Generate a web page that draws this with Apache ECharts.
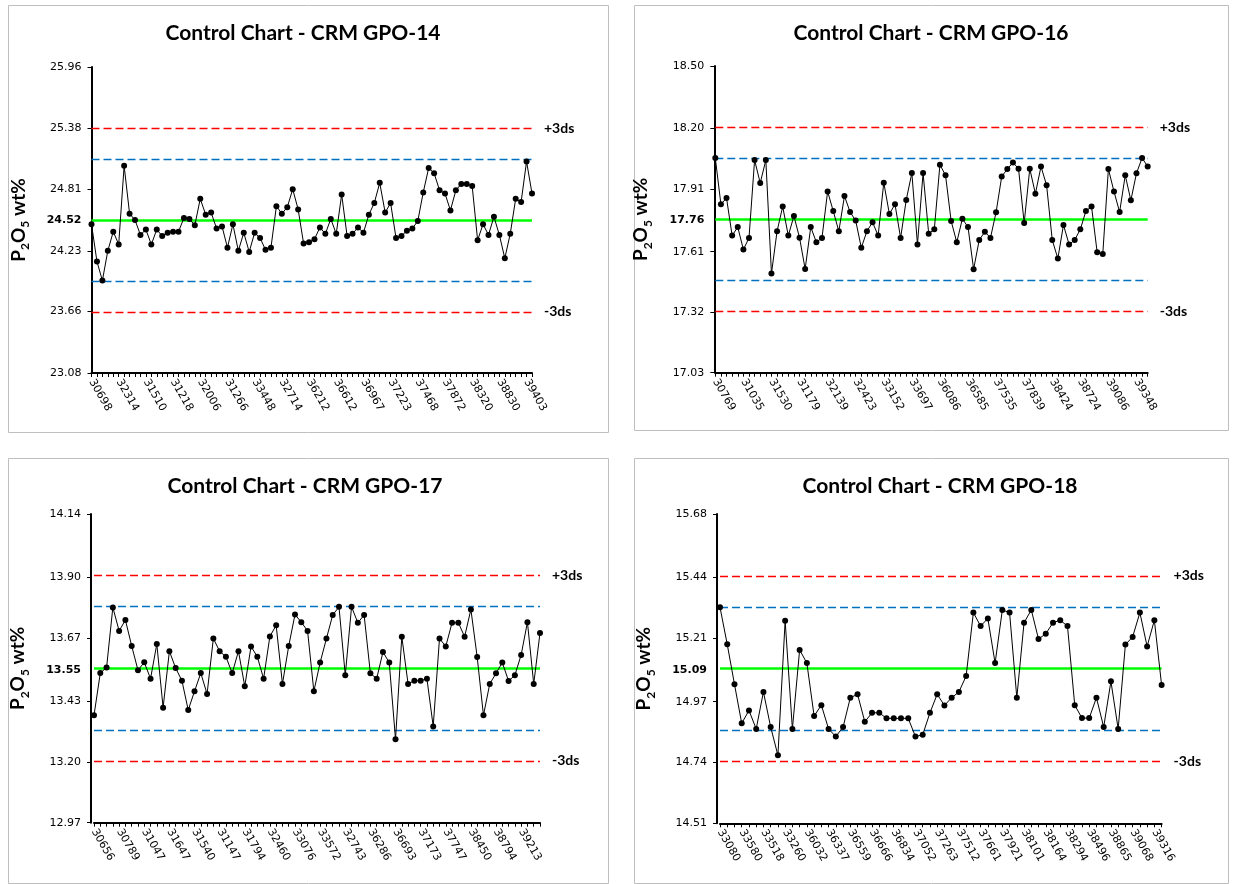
<!DOCTYPE html>
<html><head><meta charset="utf-8">
<script src="https://cdn.jsdelivr.net/npm/echarts@6/dist/echarts.min.js"></script>
<style>html,body{margin:0;padding:0;background:#fff}#c{width:1237px;height:884px}</style>
</head><body><div id="c"></div>
<script>
// ---------- data ----------
const title14 = 'Control Chart - CRM GPO-14';
const title16 = 'Control Chart - CRM GPO-16';
const title17 = 'Control Chart - CRM GPO-17';
const title18 = 'Control Chart - CRM GPO-18';

const mean14 = 24.52, sd14 = 0.288;
const mean16 = 17.765, sd16 = 0.147;
const mean17 = 13.555, sd17 = 0.117;
const mean18 = 15.095, sd18 = 0.117;

const yTicks14 = [23.08, 23.66, 24.23, 24.52, 24.81, 25.38, 25.96];
const yTicks16 = [17.03, 17.32, 17.61, 17.76, 17.91, 18.20, 18.50];
const yTicks17 = [12.97, 13.20, 13.43, 13.55, 13.67, 13.90, 14.14];
const yTicks18 = [14.51, 14.74, 14.97, 15.09, 15.21, 15.44, 15.68];

const xTicks14 = ['30698','32314','31510','31218','32006','31266','33448','32714','36212','36612','36967','37223','37468','37872','38320','38830','39403'];
const xTicks16 = ['30769','31035','31530','31179','32139','32423','33152','33697','36086','36585','37535','37839','38424','38724','39086','39348'];
const xTicks17 = ['30656','30789','31047','31647','31540','31147','31794','32460','33076','33572','32743','36286','36693','37173','37747','38450','38794','39213'];
const xTicks18 = ['33080','33580','33518','33260','36032','36337','36559','36666','36834','37052','37263','37512','37661','37921','38101','38164','38294','38496','38865','39068','39316'];

const vals14 = [24.48,24.13,23.95,24.23,24.41,24.29,25.03,24.58,24.52,24.38,
24.43,24.29,24.43,24.37,24.40,24.41,24.41,24.54,24.53,24.47,
24.72,24.57,24.59,24.44,24.46,24.26,24.48,24.23,24.40,24.22,
24.40,24.35,24.24,24.26,24.65,24.58,24.64,24.81,24.62,24.30,
24.31,24.34,24.45,24.39,24.53,24.39,24.76,24.37,24.39,24.45,
24.40,24.57,24.68,24.87,24.59,24.68,24.35,24.37,24.42,24.44,
24.51,24.78,25.01,24.96,24.80,24.77,24.61,24.80,24.86,24.86,
24.84,24.33,24.48,24.38,24.55,24.38,24.16,24.39,24.72,24.69,
25.07,24.77];

const vals16 = [18.059,17.837,17.867,17.687,17.728,17.620,17.676,18.049,17.939,18.049,
17.506,17.708,17.826,17.687,17.781,17.677,17.527,17.728,17.655,17.676,
17.899,17.805,17.708,17.877,17.800,17.759,17.629,17.708,17.751,17.687,
17.941,17.791,17.837,17.676,17.858,17.987,17.645,17.987,17.696,17.717,
18.027,17.976,17.757,17.655,17.768,17.728,17.526,17.666,17.706,17.676,
17.799,17.970,18.006,18.037,18.008,17.747,18.008,17.888,18.018,17.928,
17.666,17.577,17.738,17.645,17.666,17.717,17.805,17.826,17.607,17.599,
18.006,17.898,17.800,17.976,17.856,17.986,18.059,18.018];

const vals17 = [13.377,13.537,13.558,13.786,13.697,13.738,13.640,13.548,13.578,13.516,
13.647,13.406,13.620,13.556,13.508,13.397,13.468,13.537,13.458,13.668,
13.620,13.599,13.537,13.620,13.487,13.638,13.599,13.516,13.676,13.718,
13.496,13.640,13.759,13.730,13.697,13.468,13.577,13.668,13.757,13.788,
13.529,13.788,13.728,13.757,13.536,13.516,13.617,13.577,13.286,13.675,
13.496,13.508,13.508,13.516,13.335,13.668,13.638,13.728,13.728,13.675,
13.778,13.598,13.377,13.496,13.536,13.577,13.507,13.529,13.606,13.730,
13.496,13.689];

const vals18 = [15.327,15.187,15.036,14.888,14.937,14.867,15.007,14.874,14.767,15.276,
14.867,15.166,15.116,14.916,14.957,14.867,14.838,14.874,14.985,14.998,
14.894,14.928,14.928,14.907,14.907,14.907,14.907,14.838,14.845,14.928,
14.998,14.956,14.985,15.007,15.067,15.307,15.256,15.285,15.116,15.317,
15.307,14.985,15.269,15.317,15.207,15.227,15.269,15.278,15.256,14.957,
14.908,14.908,14.985,14.874,15.047,14.867,15.186,15.215,15.307,15.179,
15.278,15.033];

// ---------- layout ----------
const panels = [
  {title:title14, vals:vals14, xt:xTicks14, step:5, yt:yTicks14, mean:mean14, sd:sd14,
   grid:{left:91.5, top:67, width:440.5, height:306}, yOff:0, box:[8,5,600,427], tx:303},
  {title:title16, vals:vals16, xt:xTicks16, step:5, yt:yTicks16, mean:mean16, sd:sd16,
   grid:{left:715.3, top:66, width:432.4, height:306.7}, yOff:1, box:[634,5,594,425], tx:931},
  {title:title17, vals:vals17, xt:xTicks17, step:4, yt:yTicks17, mean:mean17, sd:sd17,
   grid:{left:94, top:514, width:446, height:308.7}, yOff:3, box:[8,458,600,425], tx:305},
  {title:title18, vals:vals18, xt:xTicks18, step:3, yt:yTicks18, mean:mean18, sd:sd18,
   grid:{left:720, top:514, width:441.6, height:309.3}, yOff:3, box:[634,458,594,425], tx:940}
];

const FONT_T = 'Lato';
const grids = [], xAxes = [], yAxes = [], series = [], graphics = [];

panels.forEach((p, i) => {
  grids.push(Object.assign({containLabel:false}, p.grid));
  const cats = p.vals.map((_, k) => (k % p.step === 0 ? (p.xt[k / p.step] || '') : ''));
  xAxes.push({
    type:'category', gridIndex:i, data:cats, boundaryGap:false,
    axisLine:{lineStyle:{color:'#000', width:2}},
    axisTick:{show:true, interval:0, length:4, lineStyle:{color:'#000', width:1}},
    axisLabel:{interval:0, rotate:-60, margin:7, color:'#000', fontFamily:'DejaVu Sans', fontSize:11},
    splitLine:{show:false}
  });
  const meanLbl = p.yt[3];
  yAxes.push({
    type:'value', gridIndex:i, min:p.yt[0], max:p.yt[p.yt.length-1], offset:p.yOff,
    axisLine:{show:true, lineStyle:{color:'#000', width:2}},
    axisTick:{show:true, length:4, customValues:p.yt.filter((v, k) => k !== 3), lineStyle:{color:'#000'}},
    axisLabel:{customValues:p.yt, margin:10, color:'#000', fontFamily:'DejaVu Sans', fontSize:11,
      formatter:(v) => (Math.abs(v - meanLbl) < 1e-6 ? '{b|' + v.toFixed(2) + '}' : v.toFixed(2)),
      rich:{b:{fontFamily:'DejaVu Sans', fontWeight:'bold', fontSize:11, color:'#000'}}},
    splitLine:{show:false},
    name:'{a|P}{s|2}{a|O}{s|5}{a| wt%}', nameLocation:'middle', nameGap:60, nameRotate:90,
    nameTextStyle:{rich:{
      a:{fontFamily:FONT_T, fontWeight:'bold', fontSize:19, color:'#000', lineHeight:26},
      s:{fontFamily:FONT_T, fontWeight:'bold', fontSize:12, color:'#000', lineHeight:12, verticalAlign:'bottom'}
    }}
  });
  const dash = [8, 4];
  const RED = '#FF0000', BLUE = '#0070C0', GREEN = '#00FF00';
  const lbl = (t) => ({show:true, position:'end', distance:12, formatter:t, color:'#000',
    fontFamily:FONT_T, fontWeight:'bold', fontSize:14});
  const ml = (v, c, w, t, label) => ({yAxis:v,
    lineStyle:{color:c, type:t, width:w, opacity:1},
    itemStyle:{color:c},
    label:label || {show:false}});
  series.push({
    type:'line', xAxisIndex:i, yAxisIndex:i, data:p.vals, animation:false,
    symbol:'circle', symbolSize:6, showSymbol:true, z:3,
    itemStyle:{color:'#000'}, lineStyle:{color:'#000', width:1},
    emphasis:{disabled:true},
    markLine:{silent:true, symbol:['none','none'], animation:false, precision:4, z:2,
      data:[
        ml(p.mean + 3*p.sd, RED, 1.3, dash, lbl('+3ds')),
        ml(p.mean + 2*p.sd, BLUE, 1.3, dash),
        ml(p.mean, GREEN, 2.5, 'solid'),
        ml(p.mean - 2*p.sd, BLUE, 1.3, dash),
        ml(p.mean - 3*p.sd, RED, 1.3, dash, lbl('-3ds'))
      ]}
  });
  graphics.push({type:'rect', silent:true, z:-1,
    shape:{x:p.box[0] + 0.5, y:p.box[1] + 0.5, width:p.box[2], height:p.box[3]},
    style:{fill:'#fff', stroke:'#BFBFBF', lineWidth:1}});
  graphics.push({type:'text', silent:true, x:p.tx, y:p.box[1] + 28,
    style:{text:p.title, textAlign:'center', textVerticalAlign:'middle',
      font:'bold 21px ' + FONT_T, fill:'#000'}});
});

const chart = echarts.init(document.getElementById('c'));
chart.setOption({
  animation:false,
  backgroundColor:'#fff',
  grid:grids, xAxis:xAxes, yAxis:yAxes, series:series, graphic:graphics
});
</script></body></html>
